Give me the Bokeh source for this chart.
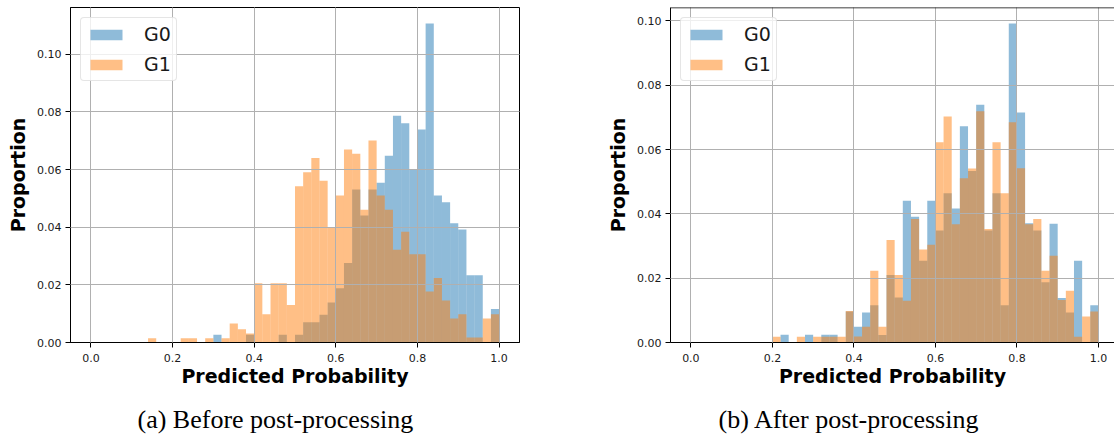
import numpy as np
from bokeh.plotting import figure
from bokeh.models import (Range1d, FixedTicker, PrintfTickFormatter, Legend,
                          LegendItem, Title, Span, ColumnDataSource)
from bokeh.layouts import row
from bokeh.embed import file_html
from bokeh.resources import INLINE

# histogram bins: 50 bins of width 0.02 from 0 to 1
bin_edges = np.linspace(0.0, 1.0, 51)

# (a) Before post-processing
before_g0 = [0, 0, 0, 0, 0, 0, 0, 0, 0, 0,
             0, 0, 0, 0, 0, 0.0027, 0, 0, 0, 0.0027,
             0, 0, 0, 0.0027, 0, 0.0027, 0.0070, 0.0070, 0.0096, 0.0139,
             0.0188, 0.0276, 0.0531, 0.0441, 0.0531, 0.0554, 0.0648, 0.0787, 0.0761, 0.0600,
             0.0739, 0.1107, 0.0510, 0.0487, 0.0414, 0.0392, 0.0233, 0.0233, 0, 0.0116]
before_g1 = [0, 0, 0, 0, 0, 0, 0, 0.0015, 0, 0,
             0, 0.0015, 0.0015, 0, 0.0015, 0, 0.0015, 0.0066, 0.0046, 0.0031,
             0.0206, 0.0098, 0.0206, 0.0206, 0.0130, 0.0542, 0.0591, 0.0640, 0.0561, 0.0399,
             0.0510, 0.0670, 0.0655, 0.0461, 0.0701, 0.0510, 0.0461, 0.0322, 0.0384, 0.0306,
             0.0306, 0.0177, 0.0224, 0.0146, 0.0083, 0.0098, 0.0017, 0.0017, 0.0083, 0.0098]

# (b) After post-processing
after_g0 = [0, 0, 0, 0, 0, 0, 0, 0, 0, 0,
            0, 0.0024, 0, 0, 0.0024, 0, 0.0024, 0.0024, 0, 0.0096,
            0.0049, 0.0093, 0.0116, 0.0023, 0.0210, 0.0140, 0.0441, 0.0391, 0.0254, 0.0441,
            0.0348, 0.0464, 0.0417, 0.0672, 0.0533, 0.0739, 0.0348, 0.0464, 0.0116, 0.0992,
            0.0715, 0.0371, 0.0348, 0.0187, 0.0369, 0.0138, 0.0093, 0.0254, 0, 0.0116]
after_g1 = [0, 0, 0, 0, 0, 0, 0, 0, 0, 0,
            0.0018, 0, 0, 0.0018, 0, 0.0018, 0.0018, 0.0018, 0.0018, 0.0098,
            0.0019, 0.0049, 0.0223, 0.0049, 0.0319, 0.0210, 0.0130, 0.0384, 0.0289, 0.0304,
            0.0623, 0.0703, 0.0368, 0.0511, 0.0541, 0.0719, 0.0353, 0.0623, 0.0464, 0.0685,
            0.0542, 0.0368, 0.0384, 0.0223, 0.0270, 0.0132, 0.0161, 0.0018, 0.0081, 0.0096]

series_names = ["G0", "G1"]
x_ticks = [0.0, 0.2, 0.4, 0.6, 0.8, 1.0]
y_ticks = [0.0, 0.02, 0.04, 0.06, 0.08, 0.10]
captions = ["(a) Before post-processing", "(b) After post-processing"]

BLUE = "#1f77b4"
ORANGE = "#ff7f0e"
GRID = "#b0b0b0"
TXT = "#1a1a1a"


def make_panel(g0, g1, caption, width, x_end, border_right, caption_offset, outline):
    ymax = max(max(g0), max(g1)) * 1.05
    p = figure(width=width, height=445, output_backend="svg", toolbar_location=None,
               x_range=Range1d(-0.05, x_end), y_range=Range1d(0, ymax),
               min_border_left=70, min_border_right=border_right,
               min_border_top=7, min_border_bottom=103)
    p.background_fill_color = "white"
    p.border_fill_color = "white"
    if outline:
        p.outline_line_color = "black"
        p.outline_line_width = 1
    else:
        p.outline_line_color = None
        p.add_layout(Span(location=ymax, dimension="width", line_color="black",
                          line_width=1.5))

    items = []
    for vals, color, name in ((g0, BLUE, series_names[0]), (g1, ORANGE, series_names[1])):
        src = ColumnDataSource(dict(left=bin_edges[:-1], right=bin_edges[1:],
                                    top=vals, bottom=[0] * len(vals)))
        r = p.quad(left="left", right="right", top="top", bottom="bottom", source=src,
                   fill_color=color, fill_alpha=0.5, line_color=None)
        items.append(LegendItem(label=name, renderers=[r]))

    legend = Legend(items=items, location="top_left", margin=10, padding=5,
                    spacing=8, glyph_width=40, glyph_height=13, label_height=20,
                    label_standoff=18, label_text_font="DejaVu Sans",
                    label_text_font_size="19px",
                    label_text_color=TXT,
                    border_line_color="#cccccc", border_line_width=1,
                    background_fill_color="white", background_fill_alpha=0.8)
    try:
        legend.border_radius = 4
    except Exception:
        pass
    p.add_layout(legend, "center")

    for g in (p.xgrid, p.ygrid):
        g.grid_line_color = GRID
        g.grid_line_width = 1
        g.level = "guide"
    p.xgrid.ticker = FixedTicker(ticks=x_ticks)
    p.ygrid.ticker = FixedTicker(ticks=y_ticks)

    p.xaxis.ticker = FixedTicker(ticks=x_ticks)
    p.yaxis.ticker = FixedTicker(ticks=y_ticks)
    p.xaxis.formatter = PrintfTickFormatter(format="%.1f")
    p.yaxis.formatter = PrintfTickFormatter(format="%.2f")

    for ax in (p.xaxis[0], p.yaxis[0]):
        ax.axis_line_color = "black"
        ax.axis_line_width = 1
        ax.major_tick_line_color = "black"
        ax.major_tick_out = 5
        ax.major_tick_in = 0
        ax.minor_tick_out = 0
        ax.minor_tick_in = 0
        ax.major_label_text_font = "DejaVu Sans"
        ax.major_label_text_font_size = "11px"
        ax.major_label_text_color = TXT
        ax.axis_label_text_font = "DejaVu Sans"
        ax.axis_label_text_font_style = "bold"
        ax.axis_label_text_font_size = "19px"
        ax.axis_label_text_color = "black"
    p.xaxis.axis_label = "Predicted Probability"
    p.yaxis.axis_label = "Proportion"
    p.xaxis.major_label_standoff = 6
    p.yaxis.major_label_standoff = 4
    p.xaxis.axis_label_standoff = 0
    p.yaxis.axis_label_standoff = 5

    spacer = Title(text=" ", text_font_size="5px", standoff=0)
    p.add_layout(spacer, "below")
    t = Title(text=caption, align="left", offset=caption_offset,
              text_font="Liberation Serif", text_font_size="26px",
              text_font_style="normal", text_color="black", standoff=10)
    p.add_layout(t, "below")
    return p


p1 = make_panel(before_g0, before_g1, captions[0], width=600, x_end=1.05,
                border_right=81, caption_offset=67, outline=True)
p2 = make_panel(after_g0, after_g1, captions[1], width=514, x_end=1.0394,
                border_right=0, caption_offset=48, outline=False)

layout = row(p1, p2)
open("out.html", "w").write(file_html(layout, INLINE))
